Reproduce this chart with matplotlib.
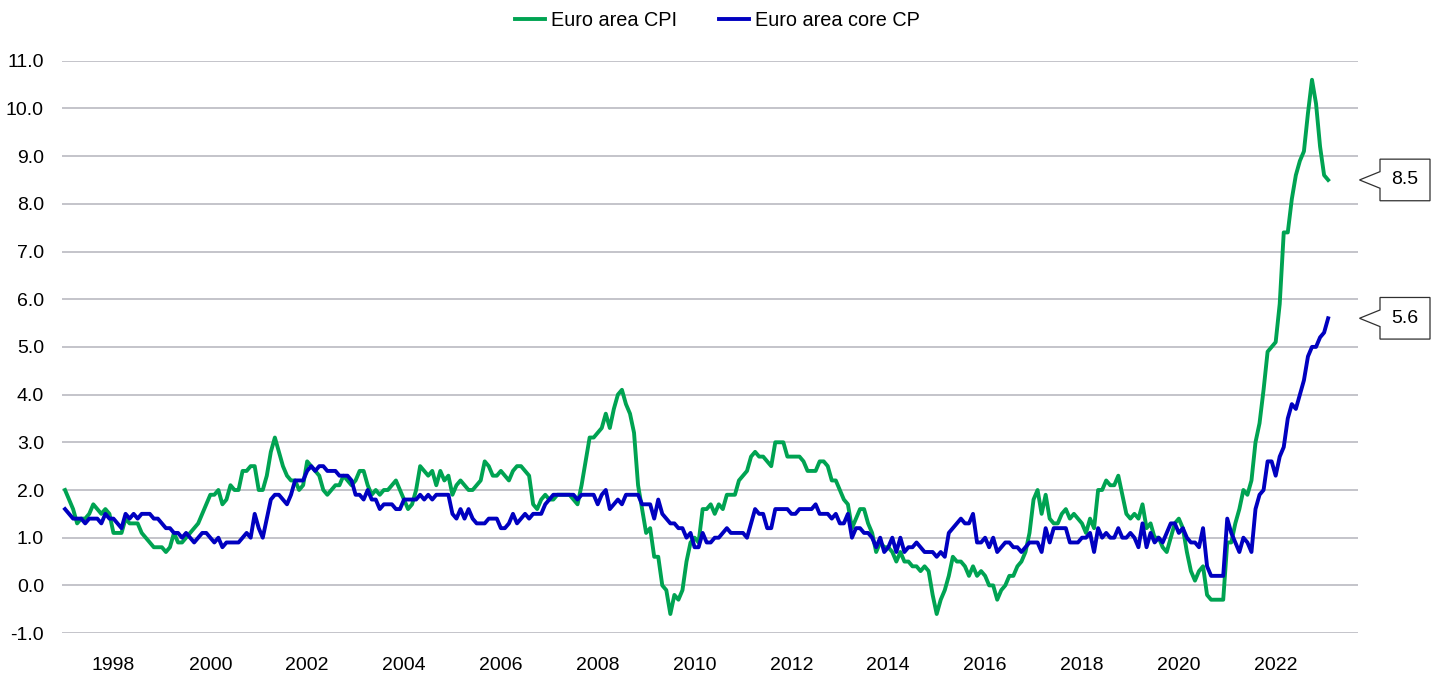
#!/usr/bin/env python3

import matplotlib
matplotlib.use("Agg")
import matplotlib.pyplot as plt
from matplotlib.patches import Polygon
from matplotlib.transforms import blended_transform_factory

# monthly y/y rates, Jan 1997 .. Feb 2023
cpi = [
    2.0, 1.8, 1.6, 1.3, 1.4, 1.4, 1.5, 1.7, 1.6, 1.5, 1.6, 1.5,  # 1997
    1.1, 1.1, 1.1, 1.4, 1.3, 1.3, 1.3, 1.1, 1.0, 0.9, 0.8, 0.8,  # 1998
    0.8, 0.7, 0.8, 1.1, 0.9, 0.9, 1.0, 1.1, 1.2, 1.3, 1.5, 1.7,  # 1999
    1.9, 1.9, 2.0, 1.7, 1.8, 2.1, 2.0, 2.0, 2.4, 2.4, 2.5, 2.5,  # 2000
    2.0, 2.0, 2.3, 2.8, 3.1, 2.8, 2.5, 2.3, 2.2, 2.2, 2.0, 2.1,  # 2001
    2.6, 2.5, 2.4, 2.3, 2.0, 1.9, 2.0, 2.1, 2.1, 2.3, 2.2, 2.1,  # 2002
    2.2, 2.4, 2.4, 2.1, 1.9, 2.0, 1.9, 2.0, 2.0, 2.1, 2.2, 2.0,  # 2003
    1.8, 1.6, 1.7, 2.0, 2.5, 2.4, 2.3, 2.4, 2.1, 2.4, 2.2, 2.3,  # 2004
    1.9, 2.1, 2.2, 2.1, 2.0, 2.0, 2.1, 2.2, 2.6, 2.5, 2.3, 2.3,  # 2005
    2.4, 2.3, 2.2, 2.4, 2.5, 2.5, 2.4, 2.3, 1.7, 1.6, 1.8, 1.9,  # 2006
    1.8, 1.8, 1.9, 1.9, 1.9, 1.9, 1.8, 1.7, 2.1, 2.6, 3.1, 3.1,  # 2007
    3.2, 3.3, 3.6, 3.3, 3.7, 4.0, 4.1, 3.8, 3.6, 3.2, 2.1, 1.6,  # 2008
    1.1, 1.2, 0.6, 0.6, 0.0, -0.1, -0.6, -0.2, -0.3, -0.1, 0.5, 0.9,  # 2009
    1.0, 0.9, 1.6, 1.6, 1.7, 1.5, 1.7, 1.6, 1.9, 1.9, 1.9, 2.2,  # 2010
    2.3, 2.4, 2.7, 2.8, 2.7, 2.7, 2.6, 2.5, 3.0, 3.0, 3.0, 2.7,  # 2011
    2.7, 2.7, 2.7, 2.6, 2.4, 2.4, 2.4, 2.6, 2.6, 2.5, 2.2, 2.2,  # 2012
    2.0, 1.8, 1.7, 1.2, 1.4, 1.6, 1.6, 1.3, 1.1, 0.7, 0.9, 0.8,  # 2013
    0.8, 0.7, 0.5, 0.7, 0.5, 0.5, 0.4, 0.4, 0.3, 0.4, 0.3, -0.2,  # 2014
    -0.6, -0.3, -0.1, 0.2, 0.6, 0.5, 0.5, 0.4, 0.2, 0.4, 0.2, 0.3,  # 2015
    0.2, 0.0, 0.0, -0.3, -0.1, 0.0, 0.2, 0.2, 0.4, 0.5, 0.7, 1.1,  # 2016
    1.8, 2.0, 1.5, 1.9, 1.4, 1.3, 1.3, 1.5, 1.6, 1.4, 1.5, 1.4,  # 2017
    1.3, 1.1, 1.4, 1.2, 2.0, 2.0, 2.2, 2.1, 2.1, 2.3, 1.9, 1.5,  # 2018
    1.4, 1.5, 1.4, 1.7, 1.2, 1.3, 1.0, 1.0, 0.8, 0.7, 1.0, 1.3,  # 2019
    1.4, 1.2, 0.7, 0.3, 0.1, 0.3, 0.4, -0.2, -0.3, -0.3, -0.3, -0.3,  # 2020
    0.9, 0.9, 1.3, 1.6, 2.0, 1.9, 2.2, 3.0, 3.4, 4.1, 4.9, 5.0,  # 2021
    5.1, 5.9, 7.4, 7.4, 8.1, 8.6, 8.9, 9.1, 9.9, 10.6, 10.1, 9.2,  # 2022
    8.6, 8.5,  # 2023
]

core = [
    1.6, 1.5, 1.4, 1.4, 1.4, 1.3, 1.4, 1.4, 1.4, 1.3, 1.5, 1.4,  # 1997
    1.4, 1.3, 1.2, 1.5, 1.4, 1.5, 1.4, 1.5, 1.5, 1.5, 1.4, 1.4,  # 1998
    1.3, 1.2, 1.2, 1.1, 1.1, 1.0, 1.1, 1.0, 0.9, 1.0, 1.1, 1.1,  # 1999
    1.0, 0.9, 1.0, 0.8, 0.9, 0.9, 0.9, 0.9, 1.0, 1.1, 1.0, 1.5,  # 2000
    1.2, 1.0, 1.4, 1.8, 1.9, 1.9, 1.8, 1.7, 1.9, 2.2, 2.2, 2.2,  # 2001
    2.4, 2.5, 2.4, 2.5, 2.5, 2.4, 2.4, 2.4, 2.3, 2.3, 2.3, 2.2,  # 2002
    1.9, 1.9, 1.8, 2.0, 1.8, 1.8, 1.6, 1.7, 1.7, 1.7, 1.6, 1.6,  # 2003
    1.8, 1.8, 1.8, 1.8, 1.9, 1.8, 1.9, 1.8, 1.9, 1.9, 1.9, 1.9,  # 2004
    1.5, 1.4, 1.6, 1.4, 1.6, 1.4, 1.3, 1.3, 1.3, 1.4, 1.4, 1.4,  # 2005
    1.2, 1.2, 1.3, 1.5, 1.3, 1.4, 1.5, 1.4, 1.5, 1.5, 1.5, 1.7,  # 2006
    1.8, 1.9, 1.9, 1.9, 1.9, 1.9, 1.9, 1.8, 1.9, 1.9, 1.9, 1.9,  # 2007
    1.7, 1.9, 2.0, 1.6, 1.7, 1.8, 1.7, 1.9, 1.9, 1.9, 1.9, 1.7,  # 2008
    1.7, 1.7, 1.4, 1.8, 1.5, 1.4, 1.3, 1.3, 1.2, 1.2, 1.0, 1.1,  # 2009
    0.8, 0.8, 1.1, 0.9, 0.9, 1.0, 1.0, 1.1, 1.2, 1.1, 1.1, 1.1,  # 2010
    1.1, 1.0, 1.3, 1.6, 1.5, 1.5, 1.2, 1.2, 1.6, 1.6, 1.6, 1.6,  # 2011
    1.5, 1.5, 1.6, 1.6, 1.6, 1.6, 1.7, 1.5, 1.5, 1.5, 1.4, 1.5,  # 2012
    1.3, 1.3, 1.5, 1.0, 1.2, 1.2, 1.1, 1.1, 1.0, 0.8, 1.0, 0.7,  # 2013
    0.8, 1.0, 0.7, 1.0, 0.7, 0.8, 0.8, 0.9, 0.8, 0.7, 0.7, 0.7,  # 2014
    0.6, 0.7, 0.6, 1.1, 1.2, 1.3, 1.4, 1.3, 1.3, 1.5, 0.9, 0.9,  # 2015
    1.0, 0.8, 1.0, 0.7, 0.8, 0.9, 0.9, 0.8, 0.8, 0.7, 0.8, 0.9,  # 2016
    0.9, 0.9, 0.7, 1.2, 0.9, 1.2, 1.2, 1.2, 1.2, 0.9, 0.9, 0.9,  # 2017
    1.0, 1.0, 1.1, 0.7, 1.2, 1.0, 1.1, 1.0, 1.0, 1.2, 1.0, 1.0,  # 2018
    1.1, 1.0, 0.8, 1.3, 0.8, 1.1, 0.9, 1.0, 0.9, 1.1, 1.3, 1.3,  # 2019
    1.1, 1.2, 1.0, 0.9, 0.9, 0.8, 1.2, 0.4, 0.2, 0.2, 0.2, 0.2,  # 2020
    1.4, 1.1, 0.9, 0.7, 1.0, 0.9, 0.7, 1.6, 1.9, 2.0, 2.6, 2.6,  # 2021
    2.3, 2.7, 2.9, 3.5, 3.8, 3.7, 4.0, 4.3, 4.8, 5.0, 5.0, 5.2,  # 2022
    5.3, 5.6,  # 2023
]

first_year = 1997
tick_years = list(range(1998, 2023, 2))
labels = ["Euro area CPI", "Euro area core CP"]
colors = ["#00a352", "#0000c0"]

W, H = 1435, 687
plt.rcParams["font.family"] = ["Liberation Sans", "DejaVu Sans"]
plt.rcParams["font.size"] = 14

fig = plt.figure(figsize=(W / 100, H / 100), dpi=100)
ax = fig.add_axes([62 / W, 1 - 633.1 / H, (1358 - 62) / W, (633.1 - 60.7) / H])

months = list(range(len(cpi)))
ax.plot(months, cpi, color=colors[0], lw=2.8, label=labels[0], solid_joinstyle="round")
ax.plot(months, core, color=colors[1], lw=2.8, label=labels[1], solid_joinstyle="round")

ax.set_xlim(-0.75, 320.4)
ax.set_ylim(-1, 11)
ax.set_yticks(range(-1, 12))
ax.set_yticklabels([f"{v:.1f}" for v in range(-1, 12)])
ax.set_xticks([(y - first_year) * 12 for y in tick_years])
ax.set_xticklabels([str(y) for y in tick_years])
ax.tick_params(axis="both", length=0, colors="black")
ax.tick_params(axis="y", pad=13)
ax.tick_params(axis="x", pad=17)
ax.grid(axis="y", color="#c4c4ca", lw=1.4)
ax.set_axisbelow(True)
for s in ax.spines.values():
    s.set_visible(False)

fig.legend(loc="center", bbox_to_anchor=(0.5, 1 - 20 / H), ncol=2, frameon=False,
           handlelength=1.5, handletextpad=0.3, columnspacing=2.1, fontsize=14.3)

# value call-outs at the right
tr = blended_transform_factory(fig.transFigure, ax.transData)
x_tip, x_l, x_r = 1359.5 / W, 1380 / W, 1430 / W
half_h, notch = 20.8 / 47.7, 8.3 / 47.7
for series in (cpi, core):
    v = series[-1]
    pts = [(x_l, v + half_h), (x_r, v + half_h), (x_r, v - half_h), (x_l, v - half_h),
           (x_l, v - notch), (x_tip, v), (x_l, v + notch)]
    ax.add_patch(Polygon(pts, closed=True, fc="white", ec="#303030", lw=0.9,
                         transform=tr, clip_on=False))
    ax.text((x_l + x_r) / 2, v, f"{v:.1f}", transform=tr, ha="center", va="center")

fig.savefig("out.png", dpi=100)
